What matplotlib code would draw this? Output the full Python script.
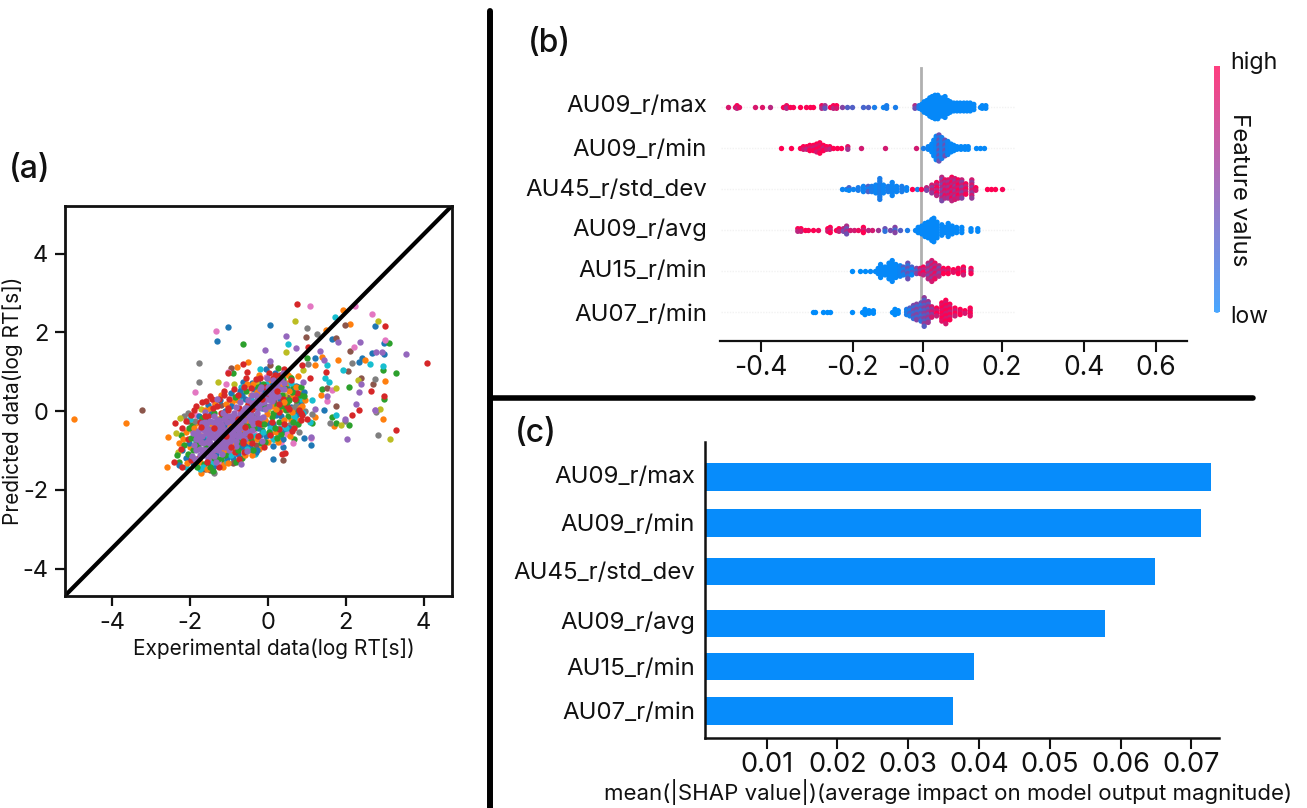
import matplotlib
matplotlib.use("Agg")
import numpy as np
import matplotlib.pyplot as plt
from matplotlib.colors import LinearSegmentedColormap
from matplotlib.lines import Line2D

plt.rcParams['font.family'] = ['Inter', 'Noto Sans', 'DejaVu Sans']
plt.rcParams['axes.unicode_minus'] = False

# ---------- panel (a) data: (experimental, predicted) per colour ----------
blue_pts = [(-1.03,2.14),(0.04,2.20),(-1.31,1.78),(2.74,2.16),(2.97,1.72),(2.97,1.45),(2.68,1.47),(2.41,1.36),(2.34,1.25),(1.22,1.35),(1.64,1.83),(1.43,0.04),(1.11,-0.86),(0.39,-0.91),(0.13,-1.21),(0.92,-0.69),(0.73,0.64),(-0.04,1.08),(-0.64,0.75),
 (-2.1,-1.2),(-1.9,-0.6),(-1.7,-1.1),(-1.6,-0.2),(-1.5,-0.9),(-1.4,-1.4),(-1.3,-0.4),(-1.2,-1.0),(-1.1,0.0),(-1.0,-0.7),(-0.9,-1.2),(-0.8,-0.2),(-0.7,-0.9),(-0.6,0.3),(-0.5,-0.5),(-0.4,-1.0),(-0.3,0.1),(-0.2,-0.6),(-0.1,0.5),(0.0,-0.3),(0.1,0.7),(0.2,-0.1),(0.3,0.3),(0.4,-0.5),(0.5,0.6),(0.6,0.1),(-1.55,0.15),(-0.95,0.45),(-0.25,0.72),(-2.2,-1.0),(-1.42,-1.41),(-1.18,-1.28)]
blue_fill = [(-2.28,-1.38),(-2.02,-0.82),(-1.92,-1.32),(-1.78,-0.12),(-1.66,-0.72),(-1.52,-1.32),(-1.46,-0.08),(-1.33,-1.08),(-1.24,0.28),(-1.13,-0.35),(-1.06,-1.18),(-0.96,0.12),(-0.87,-0.72),(-0.76,-1.08),(-0.67,0.42),(-0.57,-0.23),(-0.46,-0.92),(-0.36,0.55),(-0.26,-0.42),(-0.16,0.08),(-0.06,-0.62),(0.04,0.38),(0.14,-0.32),(0.24,0.82),(0.34,-0.12),(0.44,0.28),(0.54,-0.42),(0.64,0.52),(0.74,-0.08),(0.84,0.22),
 (-0.72,0.52),(-0.42,0.72),(0.18,0.98),(0.38,-0.72),(0.12,-0.88),(-0.28,-0.98),(-0.58,-0.88),(0.78,0.62),(0.92,0.48),(-0.32,-1.05)]
orange_pts = [(-4.99,-0.19),(-3.66,-0.29),(-2.58,-0.65),(-2.61,-1.42),(1.93,2.56),(2.12,2.22),(1.79,1.30),(2.49,1.31),(3.02,0.77),(2.95,-0.21),(1.69,-0.38),(1.37,0.41),(1.38,1.38),(1.2,-0.14),(1.22,1.17),(-0.51,1.24),(-0.8,1.13),(1.48,2.06),(0.77,0.89),(0.9,0.36),(0.77,0.32),(0.86,0.45),(0.82,0.28),(0.7,0.42),
 (-2.0,-0.9),(-1.85,-0.3),(-1.75,-1.3),(-1.62,-0.7),(-1.5,0.05),(-1.45,-1.2),(-1.28,-0.2),(-1.15,-1.35),(-1.05,-0.45),(-0.92,0.22),(-0.85,-0.85),(-0.72,-1.25),(-0.6,-0.1),(-0.52,-0.78),(-0.45,0.42),(-0.33,-0.32),(-0.22,-0.95),(-0.12,0.2),(0.02,0.78),(0.08,-0.55),(0.22,0.42),(0.35,0.05),(0.48,0.72),(0.58,-0.22),(0.62,0.35),(-1.72,-1.58),(-2.12,-0.52),(-0.65,0.62)]
orange_fill = [(-2.18,-0.72),(-2.08,-1.32),(-1.96,-0.48),(-1.84,-1.22),(-1.73,-0.62),(-1.63,0.02),(-1.56,-1.48),(-1.44,-0.32),(-1.37,0.18),(-1.26,-0.78),(-1.17,-1.42),(-1.08,0.18),(-0.99,-0.32),(-0.89,-0.98),(-0.79,0.28),(-0.69,-0.52),(-0.59,-1.12),(-0.49,0.05),(-0.39,0.68),(-0.29,-0.72),(-0.19,0.38),(-0.09,-0.22),(0.01,-0.78),(0.11,0.12),(0.21,-0.52),(0.31,0.62),(0.41,-0.22),(0.51,0.92),(0.61,-0.02),(0.71,0.62),(0.81,0.08),
 (-2.3,-0.82),(-1.22,0.42),(-0.55,0.68),(-0.22,0.92),(0.26,-0.78),(0.56,-0.62),(0.88,0.12),(0.95,0.28),(0.82,-0.22),(-1.02,-1.32),(-0.42,-1.12),(0.45,0.98)]
green_pts = [(-0.65,1.71),(3.11,1.74),(3.30,0.97),(2.95,1.04),(2.98,0.32),(2.07,0.61),(1.40,0.56),(1.64,-0.15),(1.74,-0.31),(2.08,-0.35),(1.14,-0.31),(0.99,1.36),(-0.9,0.97),(0.26,1.10),
 (-2.3,-1.3),(-2.25,-0.6),(-2.05,-1.1),(-1.95,-0.35),(-1.8,-0.85),(-1.65,-1.35),(-1.52,-0.45),(-1.35,-0.85),(-1.22,-1.22),(-1.1,-0.3),(-0.98,-0.95),(-0.82,-0.55),(-0.68,-1.18),(-0.55,-0.28),(-0.42,-0.72),(-0.28,0.28),(-0.15,-0.48),(0.05,0.32),(0.15,-0.72),(0.28,-0.28),(0.38,0.82),(0.42,0.12),(0.52,-0.12),(0.63,0.62),(0.7,0.05),(0.68,-0.72),(-0.48,-0.95),(0.1,-0.15)]
green_fill = [(-2.35,-1.12),(-2.15,-0.85),(-2.03,-0.42),(-1.94,-1.0),(-1.82,-1.42),(-1.71,-0.18),(-1.6,-0.92),(-1.48,-1.42),(-1.39,-0.05),(-1.29,-1.22),(-1.19,-0.15),(-1.09,-1.05),(-0.97,-0.55),(-0.86,0.35),(-0.77,-0.78),(-0.66,-0.32),(-0.56,0.52),(-0.47,-0.68),(-0.37,-0.42),(-0.27,0.62),(-0.17,-0.82),(-0.07,0.12),(0.03,-0.52),(0.13,0.48),(0.23,0.15),(0.33,-0.58),(0.43,0.58),(0.53,0.28),(0.63,-0.28),(0.73,0.28),(0.83,0.42),(0.47,0.02),(0.36,0.42),
 (-0.38,-0.98),(-0.08,-0.78),(0.22,-0.68),(0.58,0.85),(0.78,-0.32),(0.92,0.38),(-0.12,0.68),(-1.42,-1.52),(-0.82,-1.28),(0.86,0.62)]
brown_pts = [(-3.25,0.03),(0.97,1.88),(1.99,2.19),(1.74,1.86),(2.10,1.53),(2.06,1.01),(2.40,0.83),(2.70,0.68),(1.52,0.58),(1.76,0.14),(-0.94,1.10),(0.39,-1.23),(-0.9,-1.33),(0.04,1.17),
 (-2.05,-0.25),(-1.5,-1.5),(-1.2,0.15),(-0.62,-0.62),(-0.3,-0.85),(0.15,0.25),(0.5,0.35),(-1.62,-1.48)]
gray_pts = [(-1.77,1.23),(-1.77,0.73),(0.99,2.10),(1.26,1.97),(2.17,1.23),(1.03,1.21),(2.74,0.82),(2.83,-0.61),(2.78,-0.02),(1.60,-0.29),(1.98,-0.26),(1.14,-0.08),(0.94,0.0),(0.79,-0.52),(-1.39,-1.57),(0.64,0.07),
 (-2.15,-0.12),(-2.05,-0.05),(-1.88,-0.25),(-1.0,-0.2),(-0.4,0.05),(0.2,0.55),(0.55,-0.35),(0.72,0.15)]
pink_pts = [(-1.34,2.03),(1.07,2.68),(2.68,2.46),(2.23,2.67),(3.0,1.80),(2.21,1.62),(1.52,0.27),(1.64,0.53),(2.74,0.03),(-1.88,0.49),(-1.07,0.70),(-1.03,1.0),(0.64,-0.8),(0.34,-0.78),(1.11,-0.69),(-0.04,0.87),
 (-1.85,-0.1),(-1.4,0.22),(-1.28,-1.3),(-0.78,0.05),(-0.35,-0.55),(0.12,-0.42),(0.3,0.68),(0.48,-0.58)]
olive_pts = [(0.69,2.28),(2.84,2.28),(0.46,1.5),(3.13,-0.72),(1.88,-0.35),(2.87,0.05),(2.31,0.79),(1.76,0.58),(-1.29,0.75),(-0.88,0.70),(-0.30,0.75),(-2.36,-0.55),(-2.27,-0.17),(0.9,1.04),(0.56,0.86),
 (-2.32,-1.05),(-1.72,0.05),(-1.2,-0.6),(-0.55,0.12),(0.0,0.05),(0.42,0.42)]
cyan_pts = [(1.73,2.38),(0.51,1.71),(1.52,1.17),(2.61,1.21),(1.93,1.04),(2.95,1.15),(1.47,0.83),(1.58,0.75),(1.13,0.29),(1.76,-0.1),(1.07,-0.27),(0.69,-0.36),(-0.21,1.08),(-0.69,0.62),(0.13,-0.72),(-0.34,-1.08),(-1.76,-1.46),
 (-2.0,-0.2),(-1.58,-0.6),(-1.05,-1.3),(-0.75,0.32),(-0.18,-0.22),(0.32,-0.42),(0.72,-0.2),(0.9,-0.05),(0.6,0.72),(-0.05,-0.78),(0.25,-0.62)]
cyan_fill = [(-2.12,-1.42),(-1.88,-0.72),(-1.68,-1.42),(-1.42,-1.28),(-1.16,-1.05),(-0.94,-1.12),(-0.74,-0.68),(-0.54,-0.95),(-0.34,-0.62),(-0.14,-0.52),(0.06,-0.42),(0.26,0.08),(0.46,-0.42),(0.66,-0.12),(0.86,0.32),(-0.44,0.32),(-0.04,0.68),(0.16,0.58)]
red_pts = [(0.74,2.73),(3.02,2.16),(4.08,1.22),(3.30,-0.47),(2.97,0.39),(2.64,0.5),(2.34,0.03),(2.15,-0.10),(1.48,1.0),(1.04,1.64),(0.88,1.17),(1.07,0.83),(-0.64,1.21),(-0.53,1.0),(-1.04,0.98),(-0.56,0.83),(0.43,-1.06),(-2.4,-0.29),(0.86,-0.04),(0.86,-0.23),(0.99,-0.21),(0.36,-1.08),(0.42,1.06),
 (-2.42,-1.28),(-2.2,-1.42),(-2.2,-0.42),(-2.05,-0.72),(-1.98,-0.1),(-1.85,0.12),(-1.78,-1.2),(-1.6,0.25),(-1.45,0.32),(-1.32,0.12),(-1.22,-0.05),(-1.0,0.32),(-0.88,0.55),(-0.78,0.42),(-0.7,-0.05),(-0.45,0.58),(-0.38,-0.15),(-0.08,0.62),(0.12,0.85),(0.3,0.92),(0.55,0.05),(0.75,0.45),(0.62,-0.5),(0.05,-0.6),(-0.25,-0.62),(-0.62,-1.05),(-1.12,-0.9)]
red_fill = [(-2.25,-0.95),(-2.1,-0.25),(-1.99,-1.25),(-1.9,0.02),(-1.76,-0.28),(-1.69,0.22),(-1.54,-0.12),(-1.41,0.08),(-1.27,0.32),(-1.13,0.4),(-1.02,0.08),(-0.93,-0.62),(-0.84,-1.05),(-0.74,0.08),(-0.64,-0.82),(-0.51,0.18),(-0.41,-0.82),(-0.31,-0.22),(-0.21,0.85),(-0.11,-0.92),(-0.01,0.42),(0.09,-0.28),(0.19,0.92),(0.29,-0.02),(0.39,0.32),(0.49,0.12),(0.59,0.78),(0.69,0.32),(0.79,0.02),
 (-1.48,0.38),(-1.12,0.52),(-0.62,0.62),(-0.32,0.82),(0.02,0.98),(0.68,-0.42),(0.42,-0.32),(-0.18,-0.32),(0.28,-0.45),(0.88,-0.1),(-0.75,-1.22),(-1.25,-1.42)]
purple_pts = [(3.54,1.46),(2.77,1.51),(2.94,1.49),(2.36,1.76),(1.80,1.75),(1.44,1.30),(1.33,1.54),(0.45,1.91),(-0.09,1.55),(0.06,1.27),(0.73,1.60),(2.38,0.70),(2.35,0.49),(2.27,0.19),(2.74,0.04),(2.04,-0.72),(1.97,-0.21),(1.11,-0.65),(1.2,0.05),(0.9,0.75),(-0.70,-1.35),(1.52,0.39),
 (-1.95,-1.15),(-1.9,-0.85),(-1.85,-1.0),(-1.8,-0.5),(-1.8,-0.72),(-1.75,-0.95),(-1.7,-0.3),(-1.7,-0.62),(-1.68,-0.82),(-1.65,-1.12),(-1.6,-0.4),(-1.6,-0.55),(-1.58,-0.78),(-1.55,-1.0),(-1.55,-1.22),(-1.5,-0.25),(-1.5,-0.62),(-1.48,-0.8),(-1.45,-0.45),(-1.45,-1.02),(-1.42,-0.65),(-1.4,-0.12),(-1.4,-0.85),(-1.38,-1.15),(-1.35,-0.35),(-1.32,-0.58),(-1.3,-0.75),(-1.28,-0.98),(-1.25,-0.22),(-1.25,-0.45),(-1.22,-0.72),(-1.2,-0.88),(-1.18,-1.08),(-1.15,-0.05),(-1.15,-0.52),(-1.12,-0.65),(-1.1,-0.8),(-1.05,-0.28),(-1.02,-0.58),(-1.0,-1.0),(-0.98,-0.12),(-0.95,-0.42),(-0.92,-0.72),(-0.88,-0.05),(-0.85,-0.32),(-0.82,0.1),(-0.78,-0.62),(-0.75,-0.42),(-0.72,0.22),(-0.68,-0.22),(-0.62,-0.42),(-0.6,0.08),(-0.58,-0.72),(-0.52,0.28),(-0.5,-0.15),(-0.48,-0.55),(-0.42,0.2),(-0.38,-0.32),(-0.32,0.4),(-0.28,-0.05),(-0.2,0.55),(-0.18,0.2),(-0.12,-0.15),(-0.05,0.3),(0.0,0.62),(0.02,0.12),(0.08,0.42),(0.12,0.78),(0.18,0.35),(0.22,0.68),(0.3,0.55),(0.38,0.98),(0.42,0.72),(-1.62,-0.02),(-1.3,0.3),(-0.55,-1.02),(-0.15,-0.75),(-0.02,0.85)]
purple_fill = [(-1.92,-0.55),(-1.86,-0.72),(-1.76,-0.62),(-1.72,-0.78),(-1.64,-0.48),(-1.62,-0.98),(-1.58,-0.3),(-1.52,-0.72),(-1.5,-1.12),(-1.47,-0.55),(-1.42,-0.92),(-1.37,-0.48),(-1.34,-0.72),(-1.31,-0.22),(-1.27,-0.62),(-1.23,-0.92),(-1.19,-0.38),(-1.16,-0.78),(-1.12,-0.2),(-1.08,-0.48),(-1.06,-0.88),(-1.0,-0.48),(-0.97,-0.78),(-0.93,-0.25),(-0.9,-0.55),(-0.84,-0.15),(-0.8,-0.45),(-0.76,-0.18),(-0.7,-0.35),(-0.65,0.0),(-0.6,-0.55),(-0.55,-0.05),(-0.45,-0.25),(-0.4,-0.48),(-0.35,0.12),(-0.25,0.22),(-0.22,-0.18),(-0.15,0.42),(-0.08,0.05),(0.05,0.55),(0.1,0.25),(0.15,0.45),(0.25,0.38),(-1.75,-1.12),(-1.72,-0.45),(-1.28,-0.85),(-1.35,-1.3),(-0.82,-0.75),(-0.35,-0.18),
 (-1.88,-1.22),(-1.82,-0.62),(-1.67,-0.98),(-1.63,-0.28),(-1.53,-0.48),(-1.46,-0.92),(-1.41,-0.28),(-1.36,-0.62),(-1.33,-0.95),(-1.29,-0.42),(-1.24,-0.58),(-1.21,-0.32),(-1.17,-0.65),(-1.13,-0.92),(-1.09,-0.12),(-1.04,-0.72),(-0.99,-0.62),(-0.91,-0.42),(-0.87,-0.6),(-0.83,-0.88),(-0.74,-0.55),(-0.71,-0.08),(-0.66,-0.62),(-0.61,-0.22),(-0.56,-0.48),(-0.53,0.08),(-0.44,-0.08),(-0.41,0.42),(-0.31,0.25),(-0.24,0.08),(-0.17,0.62),(-0.1,0.22),(-0.03,0.48),(0.06,0.28),(0.16,0.62),(0.27,0.78),(0.33,0.82),(0.4,0.55)]
red_over = [(-1.72,-0.4),(-1.38,-0.42),(-1.08,-0.62),(-0.95,-0.9),(-0.78,-0.2),(-0.58,-0.4),(-0.4,0.05),(-0.15,0.32),(0.28,0.18),(-1.58,-1.3),(-0.65,-0.75),(-0.25,-0.3),(-1.62,-0.12),(-1.02,0.02),(-0.46,-0.62),(0.22,0.5)]
green_over = [(-1.85,-0.82),(-1.62,-1.05),(-1.4,-1.2),(-1.1,-1.12),(-0.88,-0.42),(-0.62,-0.58),(-0.35,-0.12),(-0.1,-0.32),(0.12,-0.05),(0.32,0.12),(0.5,0.22),(0.62,0.48),(-0.78,-1.0),(-1.22,-0.48),(-1.98,-0.68),(-0.5,-0.38),(0.18,-0.42)]
orange_over = [(-1.9,-0.42),(-1.42,-0.98),(-0.72,-0.32),(-0.28,0.48),(-0.02,-0.08),(0.32,0.82),(0.55,0.5),(0.2,0.05),(0.4,0.22),(-0.55,-0.22),(-1.12,-0.98)]

diag_x = [-5.22, 4.73]
diag_y = [-4.69, 5.22]
a_ticks = [-4, -2, 0, 2, 4]

# ---------- panel (b) data: (SHAP value, dots in column, feature value) ----------
features_b = ['AU09_r/max', 'AU09_r/min', 'AU45_r/std_dev', 'AU09_r/avg', 'AU15_r/min', 'AU07_r/min']
swarm_max = [(-.483,1,.72),(-.465,1,.8),(-.46,2,.85),(-.455,1,.78),(-.415,1,.72),(-.398,1,.75),(-.378,1,.6),(-.344,1,.85),(-.336,2,.8),(-.328,1,.9),(-.319,1,.85),(-.303,1,.95),(-.288,1,.85),(-.278,1,.95),(-.269,1,.95),(-.248,2,.8),(-.24,2,.5),(-.228,1,.95),(-.219,2,.85),(-.211,2,.95),(-.198,1,.4),(-.186,1,.2),(-.173,1,.2),(-.144,1,.15),(-.133,1,.2),(-.117,1,.1),(-.094,1,.05),(-.086,2,.1),(-.065,1,.1),(-.015,2,.55),
 (-.005,2,.1),(.002,3,.02),(.008,5,.02),(.015,6,.02),(.022,8,.02),(.028,9,.02),(.035,10,.02),(.042,10,.02),(.048,8,.02),(.055,8,.02),(.06,9,.02),(.067,6,.02),(.073,5,.02),(.082,4,.02),(.09,4,.02),(.098,4,.02),(.107,4,.02),(.115,4,.02),(.123,4,.02),(.132,3,.02),(.148,1,.05),(.153,2,.02),(.162,2,.02)]
swarm_min = [(-.351,1,.98),(-.324,1,.98),(-.303,1,.92),(-.294,2,.95),(-.286,2,.85),(-.278,3,.95),(-.269,3,.9),(-.261,4,.95),(-.253,5,.98),(-.244,3,.9),(-.236,2,.95),(-.228,2,.85),(-.219,1,.95),(-.211,1,.9),(-.2,1,.95),(-.183,2,.75),(-.151,1,.7),(-.09,1,.7),(-.013,1,.7),
 (.006,1,.1),(.018,2,.05),(.027,4,.02),(.032,7,.02),(.038,10,.05),(.045,11,.3),(.052,9,.1),(.06,7,.3),(.067,6,.05),(.075,4,.02),(.082,3,.02),(.09,2,.02),(.1,2,.02),(.11,2,.02),(.118,2,.02),(.138,1,.02),(.148,1,.02),(.157,1,.02)]
swarm_std = [(-.198,1,.05),(-.188,1,.05),(-.18,2,.15),(-.169,1,.05),(-.157,2,.1),(-.144,3,.05),(-.132,3,.2),(-.123,3,.1),(-.113,4,.05),(-.103,9,.1),(-.094,4,.05),(-.082,3,.1),(-.072,6,.05),(-.061,3,.05),(-.048,3,.1),(-.036,2,.05),(-.022,1,.95),(-.011,1,.1),(0,1,.9),
 (.014,2,.6),(.027,4,.7),(.039,6,.85),(.052,10,.6),(.06,8,.8),(.068,8,.75),(.077,10,.85),(.085,9,.7),(.093,8,.9),(.102,8,.65),(.112,5,.85),(.127,8,.7),(.137,2,.95),(.164,1,1),(.175,1,1),(.185,1,1),(.203,1,.85)]
swarm_avg = [(-.308,2,.85),(-.3,2,.9),(-.29,1,.95),(-.282,1,.85),(-.269,1,.95),(-.258,1,.8),(-.233,2,.95),(-.227,3,.9),(-.213,1,.95),(-.205,2,.9),(-.194,2,.6),(-.186,4,.55),(-.178,1,.7),(-.167,1,.7),(-.157,1,.8),(-.144,3,.95),(-.133,1,.6),(-.123,1,.7),(-.107,1,.5),(-.09,2,.3),(-.078,1,.35),(-.065,3,.4),(-.052,1,.2),(-.036,1,.1),
 (-.015,1,.05),(-.007,3,.02),(.002,4,.02),(.01,6,.02),(.018,7,.02),(.027,9,.02),(.032,10,.02),(.04,7,.02),(.052,5,.02),(.06,3,.02),(.068,6,.02),(.078,4,.02),(.089,3,.02),(.102,3,.02),(.125,2,.02),(.142,2,.02)]
swarm_15 = [(-.172,1,0),(-.153,1,0),(-.14,1,0),(-.128,1,.02),(-.115,1,.02),(-.107,3,.02),(-.101,6,.02),(-.09,4,.02),(-.08,7,.02),(-.072,9,.02),(-.063,6,.02),(-.052,5,.05),(-.044,4,.2),(-.033,7,.3),(-.023,4,.15),(-.011,3,.4),(-.002,3,.7),(.006,4,.85),(.018,7,.6),(.027,9,.7),(.035,7,.8),(.045,5,.6),(.056,3,.95),(.068,3,.95),(.081,2,1),(.093,3,1),(.106,4,.9),(.125,3,.85)]
swarm_07 = [(-.271,1,0),(-.265,1,0),(-.244,1,0),(-.236,1,0),(-.228,1,0),(-.172,1,0),(-.148,1,0),(-.14,3,0),(-.13,2,0),(-.119,2,0),(-.073,1,0),(-.065,3,0),(-.057,2,0),(-.036,3,.1),(-.028,4,.2),(-.019,6,.35),(-.011,7,.4),(0,8,.3),(.008,12,.45),(.018,9,.5),(.027,5,.7),(.039,4,.9),(.052,8,1),(.062,10,.95),(.072,7,.9),(.085,4,.9),(.098,3,1),(.11,2,.95),(.123,4,1)]
swarms = [swarm_max, swarm_min, swarm_std, swarm_avg, swarm_15, swarm_07]
b_tick_pos = [-0.40, -0.171, 0.006, 0.2025, 0.4075, 0.5875]
b_tick_labels = ['-0.4', '-0.2', '-0.0', '0.2', '0.4', '0.6']

# ---------- panel (c) data ----------
features_c = ['AU09_r/max', 'AU09_r/min', 'AU45_r/std_dev', 'AU09_r/avg', 'AU15_r/min', 'AU07_r/min']
mean_shap = [0.0728, 0.0713, 0.0648, 0.0578, 0.0393, 0.0364]
c_ticks = [0.01, 0.02, 0.03, 0.04, 0.05, 0.06, 0.07]
c_tick_labels = ['0.01', '0.02', '0.03', '0.04', '0.05', '0.06', '0.07']

# ---------- layout helpers (pixels) ----------
W, H = 1307, 808
fig = plt.figure(figsize=(W / 100, H / 100), dpi=100, facecolor='white')

def axes_px(left, right, top, bottom):
    return fig.add_axes([left / W, 1 - bottom / H, (right - left) / W, (bottom - top) / H])

def text_px(x, y, s, **kw):
    kw.setdefault('color', '#111111')
    return fig.text(x / W, 1 - y / H, s, **kw)

# ---------- panel (a) ----------
ax = axes_px(65, 452, 205.7, 595.7)
groups = [(blue_pts, 'tab:blue'), (orange_pts, 'tab:orange'), (green_pts, 'tab:green'), (brown_pts, 'tab:brown'),
          (gray_pts, 'tab:gray'), (pink_pts, 'tab:pink'), (olive_pts, 'tab:olive'), (cyan_pts, 'tab:cyan'),
          (blue_fill, 'tab:blue'), (cyan_fill, 'tab:cyan'), (orange_fill, 'tab:orange'), (green_fill, 'tab:green'),
          (red_pts, 'tab:red'), (red_fill, 'tab:red'), (green_over, 'tab:green'), (orange_over, 'tab:orange'),
          (purple_pts, 'tab:purple'), (purple_fill, 'tab:purple'), (red_over, 'tab:red')]
for pts, col in groups:
    arr = np.array(pts)
    ax.scatter(arr[:, 0], arr[:, 1], s=21, color=col, linewidths=0)
ax.plot(diag_x, diag_y, color='black', lw=3.0, solid_capstyle='butt')
ax.set_xlim(diag_x)
ax.set_ylim(diag_y)
ax.set_xticks(a_ticks, [str(t) for t in a_ticks])
ax.set_yticks(a_ticks, [str(t) for t in a_ticks])
ax.tick_params(axis='both', length=7, width=1.6, labelsize=17, pad=5, color='#111111', labelcolor='#111111')
for s in ax.spines.values():
    s.set_linewidth(2.0)
    s.set_color('#111111')
text_px(274, 649, 'Experimental data(log RT[s])', fontsize=15, ha='center', va='center')
text_px(12.5, 401, 'Predicted data(log RT[s])', fontsize=15, ha='center', va='center', rotation=90)
text_px(30, 169, '(a)', fontsize=23, ha='center', va='center', fontweight='medium')

# ---------- panel (b) ----------
row_y = [107, 148, 189, 230, 271, 312]
label_y_b = [106, 150, 190, 230, 271, 315]
shap_cmap = LinearSegmentedColormap.from_list('shap', ['#008bfb', '#ff0051'])
axb = axes_px(720, 1187, 60, 340.7)
axb.set_xlim(-0.5025, 0.665)
axb.set_ylim(340.7, 60)
for y0 in row_y:
    axb.plot([-0.5, 0.235], [y0, y0], color='#f2f2f2', lw=1, ls=(0, (1, 1)), zorder=1)
axb.plot([0, 0], [68, 320], color='#b0b0b0', lw=2, zorder=1.5)
for y0, swarm in zip(row_y, swarms):
    for val, n, cv in swarm:
        offs = (np.arange(n) - (n - 1) / 2) * 2.6
        mottled = np.clip(cv + np.where(np.arange(n) % 2 == 0, 0.12, -0.12) * (0.1 < cv), 0, 1)
        axb.scatter(np.full(n, val), y0 + offs, s=15, c=mottled, cmap=shap_cmap, vmin=0, vmax=1, linewidths=0, zorder=3)
for s in ['left', 'right', 'top']:
    axb.spines[s].set_visible(False)
axb.spines['bottom'].set_linewidth(1.6)
axb.spines['bottom'].set_color('#111111')
axb.set_yticks([])
axb.set_xticks(b_tick_pos, b_tick_labels)
axb.tick_params(axis='x', length=8, width=1.5, labelsize=19, pad=2, color='#111111', labelcolor='#111111')
axb.patch.set_alpha(0)
for lab, y0 in zip(features_b, label_y_b):
    text_px(707, y0, lab, fontsize=17.3, ha='right', va='center')
text_px(549, 44, '(b)', fontsize=23, ha='center', va='center', fontweight='medium')

# colour bar
cax = axes_px(1214, 1220, 65.7, 311.7)
cbar_cmap = LinearSegmentedColormap.from_list('cb', ['#4aa6ff', '#ff3f80'])
im = cax.imshow(np.linspace(1, 0, 256)[:, None], cmap=cbar_cmap, aspect='auto', extent=(0, 1, 0, 1))
cax.axis('off')
fig.add_artist(Line2D([1217 / W, 1217 / W], [1 - 68 / H, 1 - 68.1 / H], color='#ff3f80', lw=4.3, solid_capstyle='round'))
fig.add_artist(Line2D([1217 / W, 1217 / W], [1 - 309.5 / H, 1 - 309.6 / H], color='#4aa6ff', lw=4.3, solid_capstyle='round'))
text_px(1230, 63, 'high', fontsize=16.8, ha='left', va='center')
text_px(1230, 317, 'low', fontsize=16.5, ha='left', va='center')
text_px(1239, 190, 'Feature valus', fontsize=17.3, ha='center', va='center', rotation=-90)

# ---------- panel (c) ----------
bar_centres = [476.8, 522.8, 571.5, 623.5, 666.5, 711.2]
label_y_c = [476.5, 524.5, 573.2, 622.5, 669.2, 713.2]
axc = axes_px(704.5, 1219, 441.7, 737.7)
axc.barh(bar_centres, mean_shap, height=27.8, color='#078cfb', zorder=2)
axc.set_xlim(0.00124, 0.0739)
axc.set_ylim(737.7, 441.7)
for s in ['right', 'top']:
    axc.spines[s].set_visible(False)
for s in ['left', 'bottom']:
    axc.spines[s].set_linewidth(1.8)
    axc.spines[s].set_color('#111111')
axc.set_yticks([])
axc.set_xticks(c_ticks, c_tick_labels)
axc.tick_params(axis='x', length=8, width=1.5, labelsize=19.5, pad=2, color='#111111', labelcolor='#111111')
for lab, y0 in zip(features_c, label_y_c):
    text_px(695, y0, lab, fontsize=17.3, ha='right', va='center')
text_px(948, 792, 'mean(|SHAP value|)(average impact on model output magnitude)', fontsize=16, ha='center', va='center')
text_px(536, 433, '(c)', fontsize=23, ha='center', va='center', fontweight='medium')

# ---------- separators ----------
fig.add_artist(Line2D([490 / W, 490 / W], [1 - 11 / H, 0], color='black', lw=4.3, solid_capstyle='round'))
fig.add_artist(Line2D([490 / W, 1253 / W], [1 - 398.5 / H, 1 - 398.5 / H], color='black', lw=4.0, solid_capstyle='round'))

fig.savefig('out.png', dpi=100)
